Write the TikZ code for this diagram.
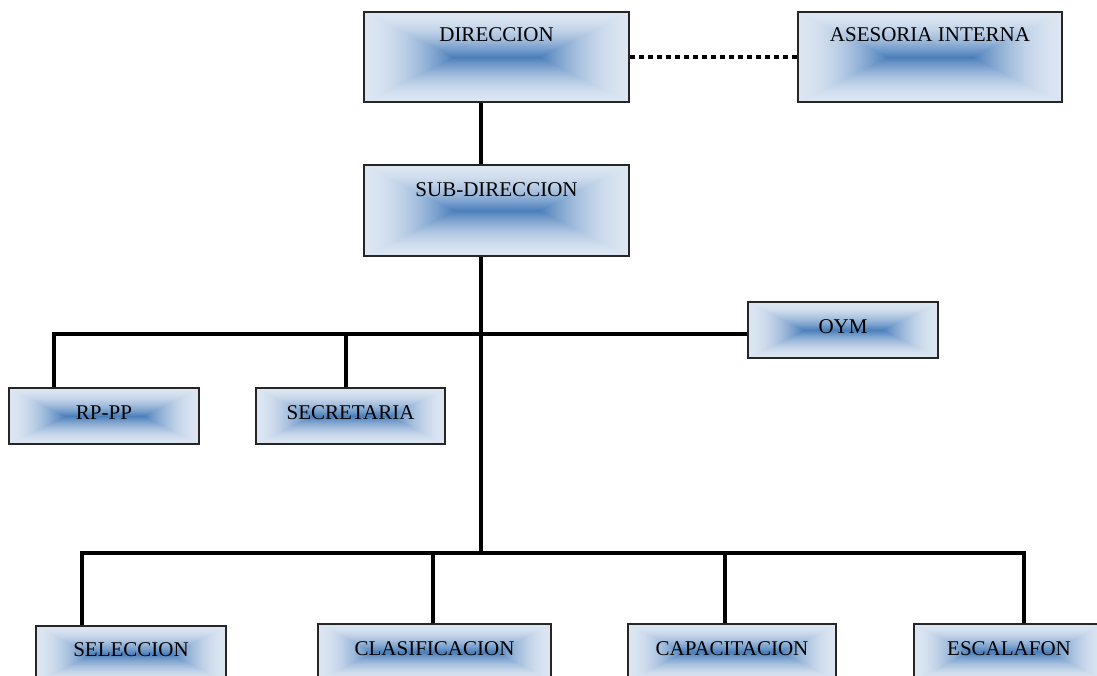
\documentclass[tikz,border=0pt]{standalone}
\usepackage{fontspec}
\setmainfont{Liberation Serif}
\usetikzlibrary{calc}

% rectangular "from centre" glow: blue in the middle, pale at the edges.
% The shaded path covers the middle 50bp of the 100bp shading square;
% #2 sets how far the side fades reach in along the box's length.
\newcommand\declareglow[2]{%
  \pgfdeclarefunctionalshading{#1}{\pgfpoint{0bp}{0bp}}{\pgfpoint{100bp}{100bp}}{}{
    50 sub abs 25 div 1 exch sub
    exch 50 sub abs 25 div 1 exch sub #2 mul
    2 copy gt {exch} if pop
    dup 0 lt {pop 0} if
    dup 1 gt {pop 1} if
    1.8 exp
    dup -0.573 mul 0.863 add exch
    dup -0.408 mul 0.902 add exch
    -0.216 mul 0.949 add
  }}
\declareglow{glowbig}{1.47}
\declareglow{glowsmall}{1.7}
\declareglow{glowwide}{2.08}
\declareglow{glowmid}{1.86}

\tikzset{
  box/.style={draw=black!85, line width=2pt, inner sep=0pt, rectangle},
  bigbox/.style={box, shading=glowbig, shade, minimum width=265pt, minimum height=90pt},
  smallbox/.style={box, shading=glowsmall, shade, minimum width=190pt, minimum height=56pt},
  label/.style={font=\fontsize{21}{24}\selectfont, inner sep=0pt, anchor=center},
  conn/.style={line width=4pt, black, line join=miter},
  dotline/.style={line width=4.5pt, black, dash pattern=on 5pt off 4pt}
}

\begin{document}
\begin{tikzpicture}[x=1pt, y=-1pt]
\useasboundingbox (0,0) rectangle (1097,676);
\clip (0,0) rectangle (1097,676);

% junction points of the connector lines
\coordinate (tx)   at (481,0);
\coordinate (rpx)  at (54,334);
\coordinate (secx) at (346,334);
\coordinate (selx) at (82,553);
\coordinate (clax) at (433,553);
\coordinate (capx) at (725,553);
\coordinate (escx) at (1024,553);

% boxes
\node[bigbox] (dir) at (496.5,57) {};
\node[bigbox, minimum width=264pt] (ase) at (930,57) {};
\node[bigbox, minimum height=91pt] (sub) at (496.5,210.5) {};
\node[smallbox] (oym) at (843,330) {};
\node[smallbox] (rp)  at (104,416) {};
\node[smallbox, minimum width=189pt] (sec) at (350.5,416) {};
\node[smallbox] (sel) at (131,654) {};
\node[smallbox, shading=glowwide, minimum width=233pt] (cla) at (434.5,652) {};
\node[smallbox, shading=glowmid, minimum width=208pt] (cap) at (732,652) {};
\node[smallbox] (esc) at (1009,652) {};

% connectors
\draw[dotline] (dir.east) -- (ase.west);
\draw[conn] (dir.south -| tx) -- (sub.north -| tx);
\draw[conn] (sub.south -| tx) -- (tx |- selx);
\draw[conn] (rp.north -| rpx) -- (rpx) -- (oym.west |- rpx);
\draw[conn] (sec.north -| secx) -- (secx);
\draw[conn] (sel.north -| selx) -- (selx) -- (escx) -- (esc.north -| escx);
\draw[conn] (cla.north -| clax) -- (clax);
\draw[conn] (cap.north -| capx) -- (capx);

% texts
\node[label] (dirt) at ([yshift=-24]dir.north) {DIRECCION};
\node[label] (aset) at ([yshift=-24]ase.north) {ASESORIA INTERNA};
\node[label] (subt) at ([yshift=-26]sub.north) {SUB-DIRECCION};
\node[label] (oymt) at ([yshift=3]oym.center) {OYM};
\node[label] (rpt)  at ([yshift=3]rp.center) {RP-PP};
\node[label] (sect) at ([yshift=3]sec.center) {SECRETARIA};
\node[label] (selt) at ([yshift=-25]sel.north) {SELECCION};
\node[label] (clat) at ([yshift=-26]cla.north) {CLASIFICACION};
\node[label] (capt) at ([yshift=-26]cap.north) {CAPACITACION};
\node[label] (esct) at ([yshift=-26]esc.north) {ESCALAFON};
\end{tikzpicture}
\end{document}
